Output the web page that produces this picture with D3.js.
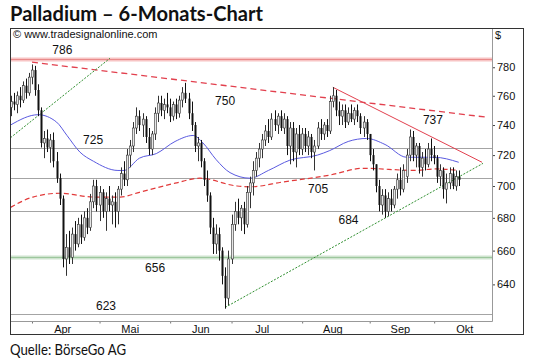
<!DOCTYPE html>
<html>
<head>
<meta charset="utf-8">
<script src="https://cdn.jsdelivr.net/npm/d3@7"></script>
<style>
  html, body { margin: 0; padding: 0; background: #fff; }
  svg { display: block; }
  .axis-text { font: 11px "Liberation Sans", Arial, sans-serif; fill: #111; }
  .note { font: 12px "Liberation Sans", Arial, sans-serif; fill: #111; }
</style>
</head>
<body>
<div id="chart"></div>
<script>
// daily candles [open, high, low, close], trading days from 21 Mar 2013
const candles = [
  [752,760,746,756],[756,762,750,754],[754,763,748,760],[760,766,752,757],[757,770,755,767],
  [767,772,758,762],[762,776,760,773],[773,782,768,778],[778,781,760,764],[764,768,746,750],
  [750,752,725,728],[728,736,718,731],[731,737,722,725],[725,734,715,730],[730,735,712,716],
  [716,722,702,705],[705,708,688,692],[692,694,650,655],[655,670,645,662],[662,672,652,656],
  [656,674,652,670],[670,678,660,664],[664,680,662,676],[676,682,664,668],[668,684,666,680],
  [680,686,670,674],[674,695,672,690],[690,704,686,700],[700,704,684,688],[688,700,678,696],
  [696,698,680,684],[684,696,672,692],[692,700,684,688],[688,694,676,690],[690,696,674,684],
  [684,700,676,698],[698,712,694,708],[708,716,700,704],[704,724,700,720],[720,730,712,726],
  [726,742,722,738],[738,752,734,746],[746,750,736,740],[740,748,732,744],[744,746,728,732],
  [732,738,720,724],[724,736,720,734],[734,752,730,748],[748,760,742,755],[755,760,746,750],
  [750,758,744,754],[754,762,748,752],[752,758,742,746],[746,756,743,754],[754,758,744,748],
  [748,760,745,757],[757,766,752,762],[762,769,755,758],[758,762,744,748],[748,756,736,740],
  [740,742,722,726],[726,732,716,728],[728,730,712,716],[716,718,700,704],[704,710,690,694],
  [694,696,670,674],[674,680,658,664],[664,676,658,670],[670,674,654,660],[660,662,640,645],
  [645,650,626,632],[632,660,628,655],[655,682,652,676],[676,690,672,684],[684,692,676,680],
  [680,688,672,686],[686,690,670,676],[676,700,674,696],[696,706,686,702],[702,716,694,710],
  [710,722,706,718],[718,728,712,724],[724,734,718,730],[730,740,726,736],[736,744,728,732],
  [732,748,730,744],[744,750,736,740],[740,748,734,746],[746,750,736,738],[738,748,734,744],
  [744,746,720,726],[726,742,714,738],[738,742,716,722],[722,738,712,734],[734,740,720,724],
  [724,738,720,734],[734,738,722,726],[726,736,720,732],[732,734,718,722],[722,730,710,726],
  [726,742,724,738],[738,744,730,734],[734,742,730,740],[740,744,732,736],[736,760,734,756],
  [756,766,752,760],[760,764,746,750],[750,756,740,746],[746,754,740,750],[750,754,738,742],
  [742,752,740,748],[748,754,742,744],[744,752,740,750],[750,754,742,746],[746,748,734,738],
  [738,746,732,742],[742,744,730,734],[734,734,716,720],[720,724,710,714],[714,714,696,700],
  [700,704,684,688],[688,698,682,694],[694,698,680,684],[684,696,681,692],[692,698,684,688],
  [688,700,686,698],[698,708,692,704],[704,712,694,698],[698,714,696,710],[706,724,702,720],
  [720,737,716,732],[732,736,716,720],[720,728,712,726],[726,728,708,712],[712,722,706,718],
  [718,724,710,714],[714,728,712,724],[724,731,716,720],[720,726,714,718],[718,720,702,706],
  [706,714,700,710],[710,712,692,698],[698,708,689,702],[702,712,698,708],[708,712,698,700],
  [700,710,697,706],[706,710,700,704]
];

// first trading day index of each month
const months = [
  { label: "Apr", start: 7 },
  { label: "Mai", start: 29 },
  { label: "Jun", start: 52 },
  { label: "Jul", start: 72 },
  { label: "Aug", start: 95 },
  { label: "Sep", start: 117 },
  { label: "Okt", start: 138 },
];

const priceTicks = [640, 660, 680, 700, 720, 740, 760, 780];

const levels = [
  { value: 786, kind: "red" },
  { value: 725, kind: "grey" },
  { value: 705, kind: "grey" },
  { value: 684, kind: "grey" },
  { value: 656, kind: "green" },
  { value: 623, kind: "grey" },
];

// moving averages [day index, price]
const maShort = [
  [0,740],[9,747],[15,742],[18.4,733],[22.6,722],[27,716],[35,710],[37,710],[42,718],
  [47.5,721],[53.6,729],[59.5,733],[62.7,728],[67,717],[71.5,708.6],[78,705],[84,710],
  [91,716.7],[100,720],[104,723],[110,729],[116,731],[122,727],[129,718.6],[138,718.6],[146,715.3]
];
const maLong = [
  [0,686.5],[7.3,693],[16,695.4],[27.5,693],[35.7,693],[42,696],[53.6,701.8],[61.7,705],
  [73.8,700],[78,699.5],[88.8,702.6],[104,707],[114.8,711.4],[131.8,710],[138.3,711],[145.8,710]
];

const trendLines = [
  { kind: "redDash", points: [[7, 783.6], [155.5, 745.2]] },
  { kind: "red", points: [[105, 765.9], [153.6, 715.3]] },
  { kind: "green", points: [[69.9, 626.7], [153.9, 714.6]] },
  { kind: "green", points: [[0, 731.5], [32.4, 786.4]] },
];

const notes = [
  { text: "786", day: 16.9, price: 792.2 },
  { text: "750", day: 69.9, price: 756.2 },
  { text: "725", day: 26.9, price: 729.8 },
  { text: "705", day: 100.2, price: 698.5 },
  { text: "684", day: 110.1, price: 678.5 },
  { text: "656", day: 47.1, price: 650.0 },
  { text: "623", day: 31.1, price: 627.9 },
  { text: "737", day: 137.6, price: 743.2 },
];

const width = 540, height = 364;
const frame = { left: 10, top: 28, plotRight: 492, plotBottom: 321, right: 523, bottom: 334 };

const svg = d3.select("#chart").append("svg")
  .attr("width", width).attr("height", height)
  .attr("viewBox", `0 0 ${width} ${height}`);

const x = d3.scaleLinear().domain([0, 157]).range([10.5, 492.5]);
const y = d3.scaleLog().domain([619, 808.4]).range([frame.plotBottom, frame.top]);

svg.append("text")
  .attr("x", 10).attr("y", 21)
  .attr("textLength", 253).attr("lengthAdjust", "spacingAndGlyphs")
  .style("font", "bold 20px Lato, 'Open Sans', sans-serif")
  .style("fill", "#111")
  .text("Palladium – 6-Monats-Chart");

svg.append("text")
  .attr("x", 10).attr("y", 355)
  .attr("textLength", 116).attr("lengthAdjust", "spacingAndGlyphs")
  .style("font", "16px Lato, 'Open Sans', sans-serif")
  .style("fill", "#111")
  .text("Quelle: BörseGo AG");

svg.append("defs").append("clipPath").attr("id", "plot-clip")
  .append("rect")
  .attr("x", frame.left).attr("y", frame.top)
  .attr("width", frame.plotRight - frame.left).attr("height", frame.plotBottom - frame.top);

const plot = svg.append("g").attr("clip-path", "url(#plot-clip)");

// horizontal levels
levels.forEach((lv) => {
  const yy = Math.round(y(lv.value)) + 0.5;
  if (lv.kind === "grey") {
    plot.append("line").attr("x1", frame.left).attr("x2", frame.plotRight)
      .attr("y1", yy).attr("y2", yy).attr("stroke", "#a4a4a4").attr("stroke-width", 1);
  } else {
    const band = lv.kind === "red" ? "#f7c4c4" : "#cfe4cf";
    const core = lv.kind === "red" ? "#e98a8a" : "#9dc79d";
    plot.append("line").attr("x1", frame.left).attr("x2", frame.plotRight)
      .attr("y1", yy).attr("y2", yy).attr("stroke", band).attr("stroke-width", 4);
    plot.append("line").attr("x1", frame.left).attr("x2", frame.plotRight)
      .attr("y1", yy).attr("y2", yy).attr("stroke", core).attr("stroke-width", 1);
  }
});

const lineGen = d3.line().x((d) => x(d[0])).y((d) => y(d[1]));

trendLines.forEach((t) => {
  const path = plot.append("path").datum(t.points).attr("d", lineGen).attr("fill", "none");
  if (t.kind === "redDash") {
    path.attr("stroke", "#e2404e").attr("stroke-width", 1.3).attr("stroke-dasharray", "6,4");
  } else if (t.kind === "red") {
    path.attr("stroke", "#e2404e").attr("stroke-width", 1);
  } else {
    path.attr("stroke", "#2f8f2f").attr("stroke-width", 1).attr("stroke-dasharray", "2,1.5");
  }
});

const curve = d3.line().x((d) => x(d[0])).y((d) => y(d[1])).curve(d3.curveMonotoneX);

plot.append("path").datum(maLong).attr("d", curve)
  .attr("fill", "none").attr("stroke", "#e23a3a").attr("stroke-width", 1.2)
  .attr("stroke-dasharray", "5,3");

plot.append("path").datum(maShort).attr("d", curve)
  .attr("fill", "none").attr("stroke", "#5a5ae0").attr("stroke-width", 1);

// candles
const bars = plot.append("g");
candles.forEach((c, i) => {
  const [o, h, l, cl] = c;
  const cx = Math.round(x(i));
  const top = y(Math.max(o, cl));
  const bot = y(Math.min(o, cl));
  const up = cl >= o;
  bars.append("line")
    .attr("x1", cx + 0.5).attr("x2", cx + 0.5)
    .attr("y1", y(h)).attr("y2", y(l))
    .attr("stroke", up ? "#333" : "#111").attr("stroke-width", 1);
  bars.append("rect")
    .attr("x", cx - 0.5).attr("width", 2)
    .attr("y", top).attr("height", Math.max(1, bot - top))
    .attr("fill", up ? "#e6e6e6" : "#111")
    .attr("stroke", up ? "#333" : "none").attr("stroke-width", up ? 0.6 : 0);
});

// annotations
svg.append("g").selectAll("text").data(notes).join("text")
  .attr("class", "note")
  .attr("x", (d) => x(d.day)).attr("y", (d) => y(d.price))
  .attr("dy", "0.35em").attr("text-anchor", "middle")
  .text((d) => d.text);

svg.append("text").attr("class", "axis-text")
  .attr("x", 10 + 3).attr("y", 38)
  .text("© www.tradesignalonline.com");

// right price axis
svg.append("g")
  .attr("transform", `translate(${frame.plotRight}, 0)`)
  .call(d3.axisRight(y).tickValues(priceTicks).tickSize(3).tickPadding(2).tickFormat(d3.format("d")))
  .call((g) => g.select(".domain").remove())
  .call((g) => g.selectAll("line").attr("stroke", "#444"))
  .call((g) => g.selectAll("text").attr("class", "axis-text").attr("fill", null));

svg.append("text").attr("class", "axis-text")
  .attr("x", 495).attr("y", 39).text("$");

// bottom month axis
svg.append("g")
  .attr("transform", `translate(0, ${frame.plotBottom + 0.5})`)
  .call(d3.axisBottom(x).tickValues(months.map((m) => m.start)).tickSize(2).tickFormat(""))
  .call((g) => g.select(".domain").remove())
  .call((g) => g.selectAll("line").attr("stroke", "#777"));

svg.append("g").selectAll("text").data(months).join("text")
  .attr("class", "axis-text")
  .attr("x", (d) => x(d.start + 10)).attr("y", 333)
  .attr("text-anchor", "middle")
  .text((d) => d.label);

// frame
svg.append("line").attr("x1", frame.plotRight + 0.5).attr("x2", frame.plotRight + 0.5)
  .attr("y1", frame.top).attr("y2", frame.plotBottom + 0.5).attr("stroke", "#999");
svg.append("line").attr("x1", frame.left).attr("x2", frame.plotRight + 0.5)
  .attr("y1", frame.plotBottom + 0.5).attr("y2", frame.plotBottom + 0.5).attr("stroke", "#999");
svg.append("rect")
  .attr("x", frame.left + 0.5).attr("y", frame.top + 0.5)
  .attr("width", frame.right - frame.left).attr("height", frame.bottom - frame.top)
  .attr("fill", "none").attr("stroke", "#333").attr("stroke-width", 1);
</script>
</body>
</html>
